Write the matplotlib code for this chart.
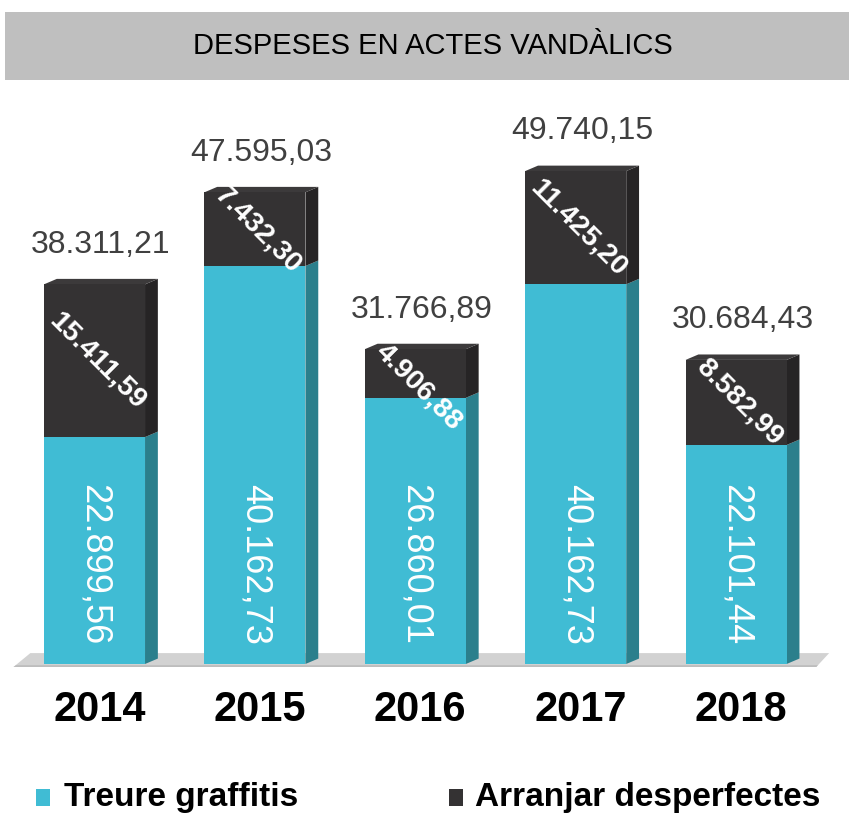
import matplotlib
matplotlib.use("Agg")
import matplotlib.pyplot as plt
from matplotlib.patches import Polygon, Rectangle

# data
years = ["2014", "2015", "2016", "2017", "2018"]
graffitis = [22899.56, 40162.73, 26860.01, 40162.73, 22101.44]
desperfectes = [15411.59, 7432.30, 4906.88, 11425.20, 8582.99]
totals = [38311.21, 47595.03, 31766.89, 49740.15, 30684.43]

TEAL = "#40BCD4"
TEAL_SIDE = "#2B7F8C"
DARK = "#343233"
DARK_SIDE = "#262425"
DARK_TOP = "#3C3A3B"
LABEL_GRAY = "#404040"
BANNER = "#BFBFBF"
FLOOR = "#D2D2D2"

NARROW = ["Liberation Sans Narrow", "Liberation Sans", "DejaVu Sans"]
SANS = ["Liberation Sans", "DejaVu Sans"]


def euro(v):
    s = f"{v:,.2f}"
    return s.replace(",", "X").replace(".", ",").replace("X", ".")


W, H = 849, 814
fig = plt.figure(figsize=(W / 100, H / 100), dpi=100, facecolor="white")

# title banner
fig.patches.append(Rectangle((5 / W, 1 - 80 / H), 1, 68 / H, transform=fig.transFigure,
                             facecolor=BANNER, edgecolor="none", zorder=0))
fig.text(433 / W, 1 - 46 / H, "DESPESES EN ACTES VANDÀLICS", ha="center", va="center",
         fontsize=21, family=NARROW, color="black")

ax = fig.add_axes([14.3 / W, (H - 664) / H, 802 / W, 594.6 / H])
ax.set_xlim(-0.5, 4.5)
ax.set_ylim(0, 60000)
ax.axis("off")

w = 0.63
dx, dy = 0.08, 550
xs = list(range(len(years)))

# floor
ax.add_patch(Polygon([(-0.505, -300), (4.50, -300), (4.58, 1100), (-0.40, 1100)], closed=True,
                     facecolor=FLOOR, edgecolor="none", zorder=1, clip_on=False))
ax.add_patch(Polygon([(-0.505, -300), (4.50, -300), (4.51, -120), (-0.49, -120)], closed=True,
                     facecolor="#BDBDBD", edgecolor="none", zorder=1, clip_on=False))

# teal part drawn as total minus dark part (matches the bar heights in the picture)
teal_h = [t - d for t, d in zip(totals, desperfectes)]
ax.bar(xs, teal_h, width=w, color=TEAL, zorder=3)
ax.bar(xs, desperfectes, bottom=teal_h, width=w, color=DARK, zorder=3)

for i in xs:
    x1 = i + w / 2
    x0 = i - w / 2
    th, tot = teal_h[i], totals[i]
    ax.add_patch(Polygon([(x1, 0), (x1 + dx, dy), (x1 + dx, th + dy), (x1, th)],
                         facecolor=TEAL_SIDE, edgecolor="none", zorder=2))
    ax.add_patch(Polygon([(x1, th), (x1 + dx, th + dy), (x1 + dx, tot + dy), (x1, tot)],
                         facecolor=DARK_SIDE, edgecolor="none", zorder=2))
    ax.add_patch(Polygon([(x0, tot), (x1, tot), (x1 + dx, tot + dy), (x0 + dx, tot + dy)],
                         facecolor=DARK_TOP, edgecolor="none", zorder=2, clip_on=False))

    # total above the bar
    ax.text(i + 0.04, tot + 4000, euro(tot), ha="center", va="center",
            fontsize=23, family=SANS, color=LABEL_GRAY, zorder=5)
    # dark segment label (kept inside the top of the bar when the segment is thin)
    ly = min(th + desperfectes[i] / 2, tot - 3800)
    ax.text(i + 0.02, ly, euro(desperfectes[i]), ha="center", va="center",
            rotation=-45, fontsize=20.5, fontweight="bold", family=SANS, color="white", zorder=5)
    # teal segment label
    ax.text(i, 10000, euro(graffitis[i]), ha="center", va="center", rotation=-90,
            fontsize=26, family=NARROW, color="white", zorder=5)
    # year
    ax.text(i + 0.03, -4640, years[i], ha="center", va="center", fontsize=30,
            fontweight="bold", family=NARROW, color="black", clip_on=False)

# legend
fig.patches.append(Rectangle((36 / W, (H - 806) / H), 14 / W, 17 / H, transform=fig.transFigure,
                             facecolor=TEAL, edgecolor="none"))
fig.text(64 / W, (H - 806) / H, "Treure graffitis", ha="left", va="baseline",
         fontsize=24, fontweight="bold", family=NARROW, color="black")
fig.patches.append(Rectangle((449 / W, (H - 806) / H), 14 / W, 17 / H, transform=fig.transFigure,
                             facecolor=DARK, edgecolor="none"))
fig.text(475 / W, (H - 806) / H, "Arranjar desperfectes", ha="left", va="baseline",
         fontsize=24, fontweight="bold", family=NARROW, color="black")

fig.savefig("out.png", dpi=100, facecolor="white")
